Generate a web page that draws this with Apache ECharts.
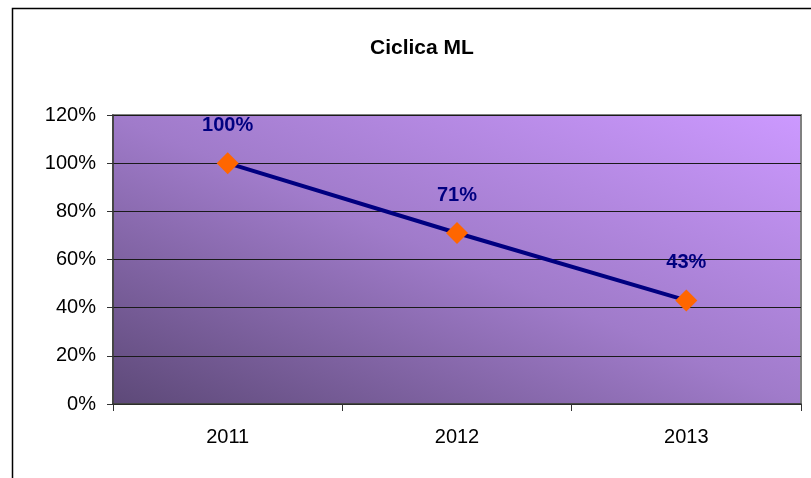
<!DOCTYPE html>
<html>
<head>
<meta charset="utf-8">
<script src="https://cdn.jsdelivr.net/npm/echarts@6/dist/echarts.min.js"></script>
<style>
  html, body { margin: 0; padding: 0; background: #fff; }
  #chart { width: 811px; height: 478px; }
</style>
</head>
<body>
<div id="chart"></div>
<script>
// dati del grafico
const anni = ['2011', '2012', '2013'];
const valori = [1.00, 0.71, 0.43];
const titolo = 'Ciclica ML';

const myChart = echarts.init(document.getElementById('chart'));

// area del grafico (px)
const gridLeft = 113, gridRight = 10, gridTop = 115, gridBottom = 74;

const option = {
  animation: false,
  title: {
    text: titolo,
    left: 365,
    top: 33,
    textStyle: {
      fontFamily: 'Liberation Sans, Arial',
      fontWeight: 'bold',
      fontSize: 21,
      color: '#000'
    }
  },
  // cornice esterna
  graphic: [
    {
      type: 'rect',
      shape: { x: 12.5, y: 8.5, width: 840, height: 520 },
      style: { fill: 'none', stroke: '#000', lineWidth: 1.5 },
      silent: true
    }
  ],
  grid: {
    left: gridLeft,
    right: gridRight,
    top: gridTop,
    bottom: gridBottom,
    show: true,
    borderColor: '#808080',
    borderWidth: 2,
    // sfumatura diagonale come in Excel (angolo basso-sx scuro, alto-dx chiaro)
    backgroundColor: new echarts.graphic.LinearGradient(113, 404, 318, -86, [
      { offset: 0, color: '#5d4978' },
      { offset: 0.5, color: '#a07bca' },
      { offset: 1, color: '#cc99ff' }
    ], true)
  },
  xAxis: {
    type: 'category',
    data: anni,
    boundaryGap: true,
    axisLine: { lineStyle: { color: '#333', width: 1.5 } },
    axisTick: { show: true, length: 7, lineStyle: { color: '#333' } },
    axisLabel: {
      margin: 23,
      fontFamily: 'Liberation Sans, Arial',
      fontSize: 20,
      color: '#000'
    }
  },
  yAxis: {
    type: 'value',
    min: 0,
    max: 1.2,
    interval: 0.2,
    axisLine: { show: true, lineStyle: { color: '#333', width: 1.5 } },
    axisTick: { show: true, length: 6, lineStyle: { color: '#333' } },
    axisLabel: {
      margin: 17,
      fontFamily: 'Liberation Sans, Arial',
      fontSize: 20,
      color: '#000',
      formatter: v => Math.round(v * 100) + '%'
    },
    splitLine: { show: true, lineStyle: { color: '#1a1a1a', width: 1 } }
  },
  series: [
    {
      type: 'line',
      data: valori,
      symbol: 'diamond',
      symbolSize: 22,
      itemStyle: { color: '#ff6600' },
      lineStyle: { color: '#000080', width: 4 },
      z: 3,
      label: {
        show: true,
        position: 'top',
        distance: 17,
        fontFamily: 'Liberation Sans, Arial',
        fontWeight: 'bold',
        fontSize: 20,
        color: '#000080',
        formatter: p => Math.round(p.value * 100) + '%'
      }
    }
  ]
};

option && myChart.setOption(option);
</script>
</body>
</html>
